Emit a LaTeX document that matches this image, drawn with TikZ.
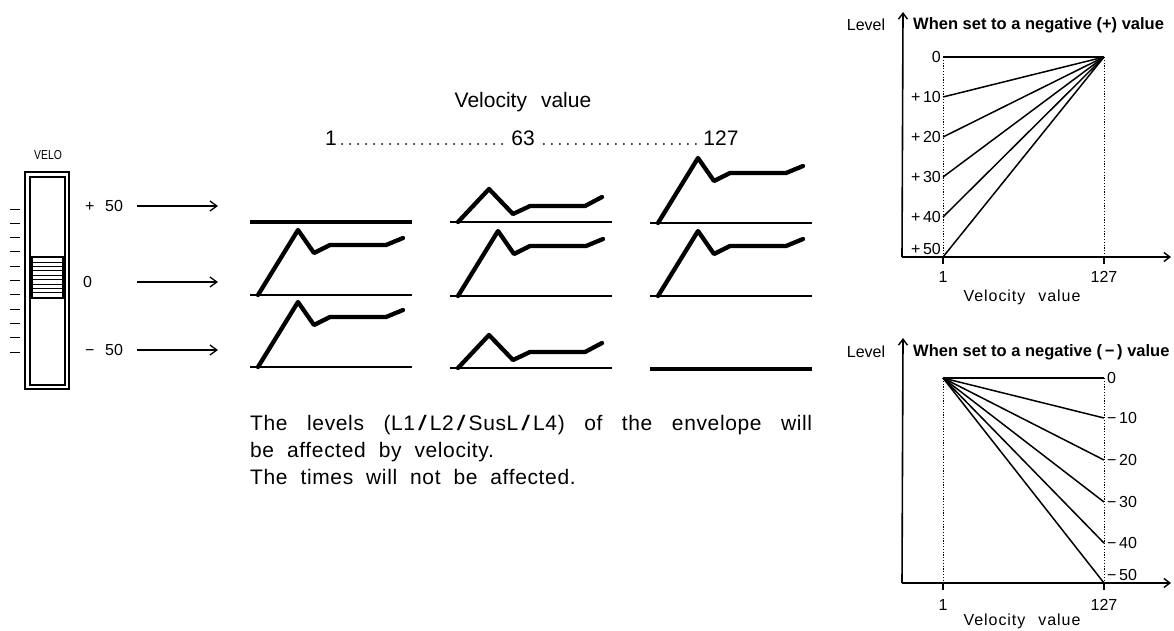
\documentclass[tikz,border=0pt]{standalone}
\usepackage{fontspec}
\usepackage{graphicx}
\setmainfont{Liberation Sans}
\newfontfamily\widefont[WordSpace=2.4]{Liberation Sans}
\newfontfamily\bodyfont[WordSpace=2.0,LetterSpace=3]{Liberation Sans}
\newfontfamily\trackfont[WordSpace=2.4,LetterSpace=6]{Liberation Sans}
\usetikzlibrary{arrows.meta}
\newcommand\fullenv[2]{\draw[env] (#1,#2) -- ++(40,-65) -- ++(16,23) -- ++(16,-8) -- ++(56,0) -- ++(17,-7);}
\newcommand\halfenv[2]{\draw[env] (#1,#2) -- ++(31,-33) -- ++(24,25) -- ++(17,-8) -- ++(55,0) -- ++(17,-9);}
\newcommand\baseln[2]{\draw[baseline] (#1-8,#2) -- ++(162,0);}
\newcommand\flatln[2]{\draw[flatline] (#1-8,#2) -- ++(162,0);}
\newcommand\wslash{\kern3pt\scalebox{1.5}[1]{/}\kern3pt}
\begin{document}
\begin{tikzpicture}[x=1pt,y=-1pt,
  env/.style={line width=4.3pt, line join=round, line cap=round},
  baseline/.style={line width=1.7pt},
  flatline/.style={line width=3.2pt},
  feed/.style={line width=1.2pt, -{Straight Barb[length=7pt,width=10pt,line width=1.3pt]}},
  axis/.style={line width=1.6pt, -{Straight Barb[length=6pt,width=9pt,line width=1.4pt]}},
  curve/.style={line width=1.5pt},
  guide/.style={line width=0.8pt, dash pattern=on 1.2pt off 1.6pt},
  frame/.style={line width=1.1pt},
  dotrow/.style={line width=2pt, line cap=round, dash pattern=on 0pt off 8pt},
  big/.style={inner sep=0pt, font=\fontsize{21}{25}\selectfont\widefont},
  body/.style={inner sep=0pt, font=\fontsize{21}{25}\selectfont\bodyfont},
  mid/.style={inner sep=0pt, font=\fontsize{16}{19}\selectfont\widefont},
  axlab/.style={inner sep=0pt, font=\fontsize{16}{19}\selectfont\trackfont},
  small/.style={inner sep=0pt, font=\fontsize{16}{19}\selectfont},
  title/.style={inner sep=0pt, font=\fontsize{16.5}{19}\selectfont\bfseries},
]
\useasboundingbox (0,0) rectangle (1174,630);

% ---------- slider ----------
\node[inner sep=0pt, font=\fontsize{13}{15}\selectfont] (velo) at (48,155) {\scalebox{0.8}[1]{VELO}};
\draw[frame] (25,172) rectangle (69,389);
\draw[frame] (30,177) rectangle (65,385);
\draw[line width=1.8pt] (32,257) rectangle (63,298);
\foreach \k in {0,...,7} \draw[line width=0.9pt] (33,{262+4.4*\k}) -- (62,{262+4.4*\k});
\foreach \k in {0,...,10} \draw[line width=0.9pt] (10,{209+14.3*\k}) -- (20,{209+14.3*\k});

\node[mid, anchor=west] (lp) at (85,206) {+ 50};
\node[mid, anchor=west] (lz) at (83,282) {0};
\node[mid, anchor=west] (lm) at (85,350) {− 50};
\coordinate (ap1) at (137,206); \coordinate (ap2) at (218,206);
\coordinate (az1) at (137,282); \coordinate (az2) at (218,282);
\coordinate (am1) at (137,350); \coordinate (am2) at (218,350);
\draw[feed] (ap1) -- (ap2);
\draw[feed] (az1) -- (az2);
\draw[feed] (am1) -- (am2);

% ---------- header ----------
\node[big] (hdr) at (523,102) {Velocity  value};
\node[big, anchor=base] (v1) at (331,145) {1};
\node[big, anchor=base] (v63) at (523,145) {63};
\node[big, anchor=base] (v127) at (721,145) {127};
\draw[dotrow] ([xshift=5pt,yshift=1pt]v1.base east) -- ([xshift=-6pt,yshift=1pt]v63.base west);
\draw[dotrow] ([xshift=9pt,yshift=1pt]v63.base east) -- ([xshift=-1pt,yshift=1pt]v127.base west);

% ---------- envelopes ----------
% column 1 (velocity 1)
\flatln{258}{222}
\baseln{258}{295} \fullenv{258}{295}
\baseln{258}{367} \fullenv{258}{367}
% column 2 (velocity 63)
\baseln{458}{222} \halfenv{458}{222}
\baseln{458}{296} \fullenv{458}{296}
\baseln{458}{368} \halfenv{458}{368}
% column 3 (velocity 127)
\baseln{658}{223} \fullenv{658}{223}
\baseln{658}{296} \fullenv{658}{296}
\flatln{658}{369}

% ---------- text ----------
\node[body, anchor=base west] (t1) at (250,430) {\makebox[562pt][s]{The levels (L1\wslash L2\wslash SusL\wslash L4) of the envelope will}};
\node[body, anchor=base west] (t2) at (250,457) {be affected by velocity.};
\node[body, anchor=base west] (t3) at (250,484) {The times will not be affected.};

% ---------- plot 1 ----------
\coordinate (o1) at (902,257);
\coordinate (y1) at (903,12);
\coordinate (x1) at (1171,257);
\draw[axis] (o1) -- (y1);
\draw[axis] (o1) -- (x1);
\node[small] (lev1) at (866,25) {Level};
\node[title, anchor=west] (tt1) at (913,25) {When set to a negative (+) value};
\coordinate (p1) at (1104,57);
\draw[guide] (943,57) -- (943,257);
\draw[guide] (1104,57) -- (1104,257);
\draw[line width=1.5pt] (943,257) -- (943,264);
\draw[line width=1.5pt] (1104,257) -- (1104,264);
\foreach \yy/\lab in {57/0,97/+\,10,137/+\,20,177/+\,30,217/+\,40} {
  \draw[curve] (943,\yy) -- (p1);
  \node[small, anchor=east] at (941,\yy) {\lab};
}
\draw[curve] (943,257) -- (p1);
\node[small, anchor=east] at (941,249) {+\,50};
\node[mid] (n1a) at (943,277) {1};
\node[mid] (n1b) at (1104,277) {127};
\node[axlab] (vx1) at (1022,297) {Velocity  value};

% ---------- plot 2 ----------
\coordinate (o2) at (902,583);
\coordinate (y2) at (903,338);
\coordinate (x2) at (1171,583);
\draw[axis] (o2) -- (y2);
\draw[axis] (o2) -- (x2);
\node[small] (lev2) at (866,352) {Level};
\node[title, anchor=west] (tt2) at (913,352) {When set to a negative (\,−\,) value};
\coordinate (p2) at (943,378);
\draw[guide] (943,378) -- (943,583);
\draw[guide] (1104,378) -- (1104,583);
\draw[line width=1.5pt] (943,583) -- (943,590);
\draw[line width=1.5pt] (1104,583) -- (1104,590);
\foreach \yy/\lab in {378/0,418/−\,10,460/−\,20,502/−\,30,543/−\,40} {
  \draw[curve] (p2) -- (1104,\yy);
  \node[small, anchor=west] at (1107,\yy) {\lab};
}
\draw[curve] (p2) -- (1104,583);
\node[small, anchor=west] at (1107,575) {−\,50};
\node[mid] (n2a) at (943,605) {1};
\node[mid] (n2b) at (1104,605) {127};
\node[axlab] (vx2) at (1022,621) {Velocity  value};
\end{tikzpicture}
\end{document}
